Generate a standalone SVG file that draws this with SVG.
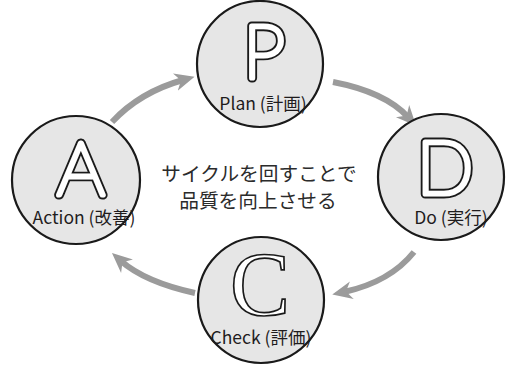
<svg xmlns="http://www.w3.org/2000/svg" width="510" height="369" viewBox="0 0 510 369">
<style>
.node circle{fill:#e6e6e6;stroke:#1a1a1a;stroke-width:2.2}
.big{font-family:Lato,Roboto,Inter,"DejaVu Sans",sans-serif;font-weight:100;font-size:75px;text-anchor:middle;stroke-linejoin:round}
.big.o{fill:#1a1a1a;stroke:#1a1a1a;stroke-width:9}
.big.i{fill:#fff;stroke:#fff;stroke-width:5.2}
.serif{font-family:"Liberation Serif",serif;font-size:90px;text-anchor:middle;fill:#fff;stroke:#1a1a1a;stroke-width:1.7}
.lbl{font-family:"Noto Sans CJK JP",sans-serif;font-size:17.5px;fill:#1f1c1d;text-anchor:middle}
.mid{font-family:"Noto Sans CJK JP",sans-serif;font-size:19.7px;fill:#2b2b2b;text-anchor:middle}
.arr{fill:none;stroke:#9b9b9b;stroke-width:6;marker-end:url(#head)}
</style>
<defs>
<marker id="head" markerUnits="userSpaceOnUse" markerWidth="30" markerHeight="30" refX="8" refY="10" orient="auto">
<path d="M0,1 L20,10 L0,19 L6,10 Z" fill="#9b9b9b"/>
</marker>
</defs>
<g id="connectors">
<path class="arr" d="M112,122 Q140,92 183,80"/>
<path class="arr" d="M333,82 Q385,92 408,117"/>
<path class="arr" d="M414,252 Q390,282 344,292"/>
<path class="arr" d="M195,293 Q145,282 121,261"/>
</g>
<g id="plan" class="node">
<circle cx="260" cy="64" r="63"/>
<text class="big o" x="264" y="78">P</text>
<text class="big i" x="264" y="78">P</text>
<text class="lbl" x="263" y="110">Plan (計画)</text>
</g>
<g id="do" class="node">
<circle cx="441" cy="177" r="63"/>
<text class="big o" x="445" y="194">D</text>
<text class="big i" x="445" y="194">D</text>
<text class="lbl" x="451" y="224">Do (実行)</text>
</g>
<g id="check" class="node">
<circle cx="261" cy="300" r="63"/>
<text class="serif" x="260" y="315">C</text>
<text class="lbl" x="261" y="344">Check (評価)</text>
</g>
<g id="action" class="node">
<circle cx="76" cy="180" r="64"/>
<text class="big o" x="81" y="195">A</text>
<text class="big i" x="81" y="195">A</text>
<text class="lbl" x="84" y="224">Action (改善)</text>
</g>
<g id="center">
<text class="mid" x="259" y="181">サイクルを回すことで</text>
<text class="mid" x="258" y="208">品質を向上させる</text>
</g>
</svg>
